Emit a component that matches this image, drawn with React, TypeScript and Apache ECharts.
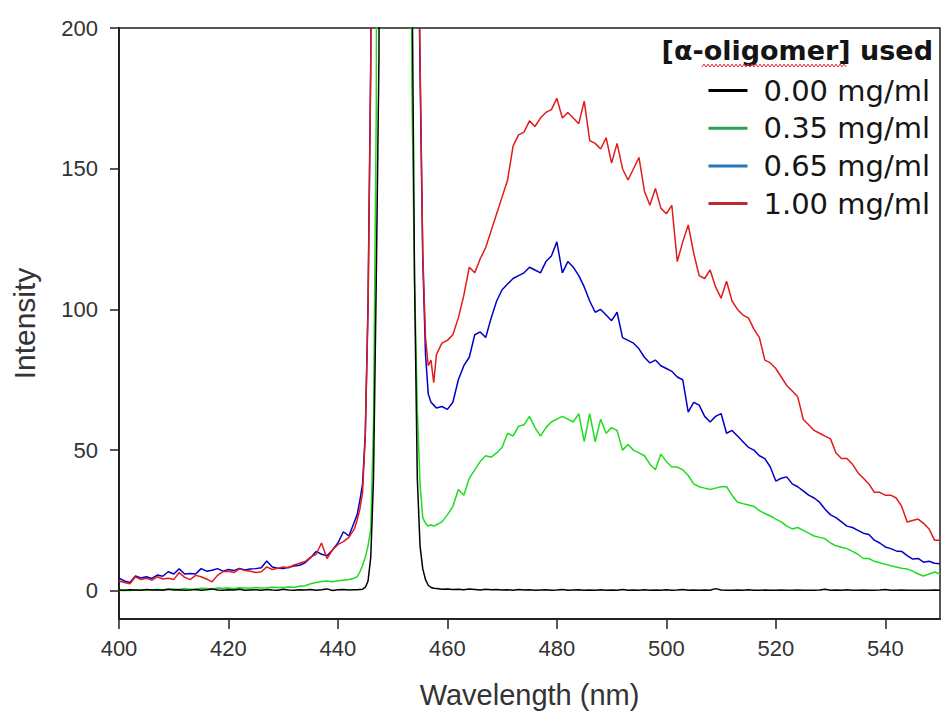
import React, { useEffect, useRef } from "react";
import * as echarts from "echarts";

// Wavelength grid (nm): 1 nm steps, 0.5 nm steps around the excitation peak
const wavelength = [
  400, 401, 402, 403, 404, 405, 406, 407, 408, 409,
  410, 411, 412, 413, 414, 415, 416, 417, 418, 419,
  420, 421, 422, 423, 424, 425, 426, 427, 428, 429,
  430, 431, 432, 433, 434, 435, 436, 437, 438, 439,
  440, 441, 442, 443,
  443.5, 444, 444.5, 445, 445.5, 446, 446.5, 447, 447.5, 448,
  448.5, 449, 449.5, 450, 450.5, 451, 451.5, 452, 452.5, 453,
  453.5, 454, 454.5, 455, 455.5, 456, 456.5, 457, 457.5,
  458, 459, 460, 461, 462, 463, 464, 465, 466, 467,
  468, 469, 470, 471, 472, 473, 474, 475, 476, 477,
  478, 479, 480, 481, 482, 483, 484, 485, 486, 487,
  488, 489, 490, 491, 492, 493, 494, 495, 496, 497,
  498, 499, 500, 501, 502, 503, 504, 505, 506, 507,
  508, 509, 510, 511, 512, 513, 514, 515, 516, 517,
  518, 519, 520, 521, 522, 523, 524, 525, 526, 527,
  528, 529, 530, 531, 532, 533, 534, 535, 536, 537,
  538, 539, 540, 541, 542, 543, 544, 545, 546, 547,
  548, 549, 550,
];

// 0.00 mg/ml
const black = [
  0.3, 0.2, 0.4, 0.3, 0.2, 0.5, 0.3, 0.4, 0.2, 0.6,
  0.3, 0.4, 0.2, 0.3, 0.5, 0.2, 0.4, 0.7, 0.3, 0.2,
  0.4, 0.3, 0.6, 0.2, 0.3, 0.4, 0.2, 0.5, 0.3, 0.2,
  0.6, 0.3, 0.2, 0.4, 0.3, 0.5, 0.2, 0.4, 0.7, 0.1,
  0.4, 0.5, 0.3, 0.4,
  0.4, 0.5, 0.6, 1.2, 3.5, 12, 40, 110, 190, 600,
  1300, 1900, 2300, 2500, 2500, 2400, 2200, 1800, 1300, 700,
  230, 110, 40, 16, 7.8, 4, 2, 1.2, 0.9,
  0.8, 0.6, 0.7, 0.5, 0.6, 0.4, 0.7, 0.5, 0.3, 0.6,
  0.4, 0.5, 0.3, 0.4, 0.2, 0.5, 0.3, 0.4, 0.2, 0.3,
  0.4, 0.2, 0.3, 0.5, 0.2, 0.3, 0.4, 0.2, 0.3, 0.2,
  0.4, 0.2, 0.3, 0.2, 0.5, 0.2, 0.3, 0.2, 0.4, 0.2,
  0.3, 0.2, 0.4, 0.2, 0.3, 0.5, 0.2, 0.3, 0.2, 0.3,
  0.2, 0.8, 0.3, 0.2, 0.2, 0.3, 0.2, 0.4, 0.2, 0.2,
  0.3, 0.2, 0.2, 0.3, 0.2, 0.2, 0.3, 0.2, 0.2, 0.2,
  0.3, 0.6, 0.2, 0.3, 0.2, 0.4, 0.2, 0.2, 0.3, 0.2,
  0.2, 0.3, 0.5, 0.2, 0.2, 0.3, 0.2, 0.2, 0.2, 0.2,
  0.2, 0.3, 0.2,
];

// 0.35 mg/ml
const green = [
  0.1, 0.2, 0.1, 0.3, 0.2, 0.4, 0.3, 0.5, 0.4, 0.6,
  0.7, 0.5, 0.8, 0.6, 0.7, 0.9, 0.8, 0.7, 1.0, 0.9,
  1.0, 0.8, 1.1, 1.0, 0.9, 1.2, 1.0, 1.1, 1.3, 1.2,
  1.2, 1.4, 1.3, 1.6, 1.8, 2.5, 3.0, 3.3, 3.5, 3.2,
  3.6, 3.8, 4.0, 4.5,
  5.0, 6.7, 9, 12, 16, 22, 60, 170, 600, 1200,
  1700, 2000, 2150, 2200, 2200, 2150, 2000, 1700, 1200, 500,
  180, 110, 65, 38, 26, 24, 23, 23.5, 23,
  23.5, 24.5, 27, 30, 36, 34, 40, 43, 46, 48,
  47.5, 49, 51, 56, 55, 58.5, 59, 62, 58, 55,
  58, 60, 61, 62, 61, 60, 63, 53, 63, 53,
  61, 56, 58, 57, 50, 52, 50, 49, 48, 45,
  43, 48.6, 46, 44, 44, 43, 41, 38, 37, 36.5,
  36, 36.5, 37, 37, 34, 31.5, 31, 30.5, 30, 28.5,
  27.5, 26.6, 25.5, 24.5, 23, 22, 22.5, 21.5, 20.5, 19.5,
  19, 18.5, 17, 16, 15.5, 15, 14, 13, 11.5, 11.5,
  10.5, 10, 9.5, 8.9, 8.5, 8.0, 7.8, 7, 6, 5.3,
  6, 6.7, 6,
];

// 0.65 mg/ml
const blue = [
  4.5, 3.5, 3.0, 5.3, 4.6, 5.0, 4.4, 5.6, 5.2, 6.8,
  6.0, 7.8, 6.0, 6.2, 6.0, 7.9, 7.0, 7.3, 7.9, 7.0,
  7.6, 7.2, 8.0, 7.4, 7.8, 7.9, 8.2, 10.6, 8.5, 8.0,
  7.9, 8.4, 8.8, 9.1, 10.0, 11.8, 14.0, 13.0, 12.5, 14.5,
  17.0, 21.0, 19.5, 24.5,
  27, 32, 38, 56, 102, 190, 470, 950, 1550, 2150,
  2550, 2750, 2850, 2900, 2900, 2850, 2750, 2550, 2250, 1750,
  1150, 620, 265, 185, 118, 84, 70, 67, 66,
  65, 65.5, 64.5, 67, 75, 80, 83, 91, 92, 90,
  97, 103, 107, 109, 111, 112, 113, 115, 114, 113,
  117, 119, 124, 113, 117, 115, 112, 108, 103, 99,
  100, 98, 96, 99, 90, 89, 88, 86, 83, 81,
  82, 80, 79, 78, 76, 75, 63.5, 67, 66, 62,
  60, 62, 63, 56, 57, 55, 53, 51, 50, 48,
  47, 44, 39, 40, 40.5, 38, 37, 35.5, 34, 33,
  31.5, 29, 27, 26, 24.5, 23, 22.5, 21.5, 20.5, 20,
  18, 17, 15.6, 15, 14.2, 14, 12.5, 11.3, 11.5, 10.2,
  10.5, 9.8, 9.6,
];

// 1.00 mg/ml
const red = [
  3.5, 3.0, 2.5, 5.0, 4.0, 4.5, 3.8, 5.0, 4.2, 4.5,
  4.0, 6.5, 4.8, 4.0, 5.5, 5.0, 4.2, 3.2, 5.5, 6.8,
  7.0, 6.5, 7.8, 7.2, 7.0, 6.5, 6.8, 8.5, 7.6, 8.0,
  8.5, 8.2, 9.2, 9.8, 10.4, 12.0, 13.0, 17.0, 11.5, 14.5,
  16.5, 17.5, 19.0, 22.0,
  25, 29, 35, 55, 100, 185, 450, 900, 1500, 2100,
  2500, 2700, 2800, 2850, 2850, 2800, 2700, 2500, 2200, 1700,
  1100, 600, 260, 190, 120, 90, 80, 82, 74,
  84, 88, 89, 91, 97, 105, 115, 113, 118, 122,
  128, 134, 140, 146, 158, 162, 163, 167, 165, 168,
  170, 171, 175, 168, 170, 168, 166, 174, 160, 159,
  157, 161, 152, 159, 150, 146, 150, 154, 142, 137,
  143, 136, 134, 137, 117, 124, 130, 120, 112, 111,
  114, 108, 104, 110, 103, 100, 98, 97, 93, 90,
  82, 81, 79, 76, 73, 71, 69, 61, 59, 57,
  56, 55, 54, 49, 47, 47, 45, 42, 40, 38,
  35, 35, 34, 34, 33, 30, 24.5, 25, 25.5, 24,
  22, 18, 18,
];

const seriesNames = ["0.00 mg/ml", "0.35 mg/ml", "0.65 mg/ml", "1.00 mg/ml"];
const lineColors = ["#000000", "#1fdc1f", "#0000c8", "#e01b1b"];
const legendColors = ["#000000", "#2e9e55", "#2676c2", "#c0262d"];
const seriesValues = [black, green, blue, red];
const drawOrder = [2, 3, 1, 0];

const xTicks = [400, 420, 440, 460, 480, 500, 520, 540];
const yTicks = [0, 50, 100, 150, 200];

const legendTitle = "[α-oligomer] used";
const xName = "Wavelength (nm)";
const yName = "Intensity";

export default function App() {
  const ref = useRef<HTMLDivElement>(null);

  useEffect(() => {
    if (!ref.current) return;
    const chart = echarts.init(ref.current, undefined, { renderer: "svg" });

    // spell-check style wavy underline under "oligomer" (decoration)
    const squiggle: number[][] = [];
    for (let x = 702; x <= 846; x += 2) {
      squiggle.push([x, (x / 2) % 2 === 0 ? 64 : 67]);
    }

    const axisFont = "'Liberation Sans', Arial, sans-serif";
    const legendFont = "'DejaVu Sans', sans-serif";

    chart.setOption({
      animation: false,
      backgroundColor: "#ffffff",
      grid: {
        left: 119,
        top: 28,
        right: 2,
        bottom: 94,
        show: true,
        borderColor: "#222",
        borderWidth: 1.5,
        containLabel: false,
      },
      title: {
        text: legendTitle,
        right: 9,
        top: 37,
        padding: 0,
        textStyle: {
          fontFamily: legendFont,
          fontWeight: "bold",
          fontSize: 27,
          color: "#151515",
        },
      },
      legend: {
        orient: "vertical",
        align: "left",
        right: 12,
        top: 76,
        padding: 0,
        itemGap: 8.7,
        itemWidth: 39,
        itemHeight: 3,
        icon: "rect",
        selectedMode: false,
        textStyle: {
          fontFamily: legendFont,
          fontSize: 29,
          lineHeight: 29,
          color: "#151515",
          padding: [0, 0, 0, 11],
        },
        data: seriesNames.map((n, i) => ({
          name: n,
          itemStyle: { color: legendColors[i] },
          lineStyle: { color: legendColors[i] },
        })),
      },
      xAxis: {
        type: "value",
        min: 400,
        max: 550,
        name: xName,
        nameLocation: "middle",
        nameGap: 61,
        nameTextStyle: { fontFamily: axisFont, fontSize: 29, color: "#333" },
        axisLine: { show: true, onZero: false, lineStyle: { color: "#222", width: 2 } },
        axisTick: { show: true, length: 10, customValues: xTicks, lineStyle: { color: "#222", width: 1.5 } },
        axisLabel: {
          customValues: xTicks,
          margin: 18,
          fontFamily: axisFont,
          fontSize: 22,
          color: "#333",
        },
        splitLine: { show: false },
      },
      yAxis: {
        type: "value",
        min: -10,
        max: 200,
        name: yName,
        nameLocation: "middle",
        nameGap: 80,
        nameRotate: 90,
        nameTextStyle: { fontFamily: axisFont, fontSize: 30, color: "#333" },
        axisLine: { show: true, onZero: false, lineStyle: { color: "#222", width: 2 } },
        axisTick: { show: true, length: 9, customValues: yTicks, lineStyle: { color: "#222", width: 1.5 } },
        axisLabel: {
          customValues: yTicks,
          margin: 21,
          fontFamily: axisFont,
          fontSize: 22,
          color: "#333",
        },
        splitLine: { show: false },
      },
      graphic: [
        {
          type: "polyline",
          shape: { points: squiggle },
          style: { stroke: "#e0303a", lineWidth: 1, fill: "none" },
          z: 100,
        },
      ],
      series: drawOrder.map((i) => ({
        name: seriesNames[i],
        type: "line",
        showSymbol: false,
        symbol: "none",
        clip: true,
        color: lineColors[i],
        lineStyle: { color: lineColors[i], width: 1.5 },
        data: wavelength.map((w, k) => [w, seriesValues[i][k]]),
      })),
    });

    return () => chart.dispose();
  }, []);

  return (
    <div
      ref={ref}
      style={{ position: "fixed", left: 0, top: 0, width: 942, height: 714 }}
    />
  );
}
